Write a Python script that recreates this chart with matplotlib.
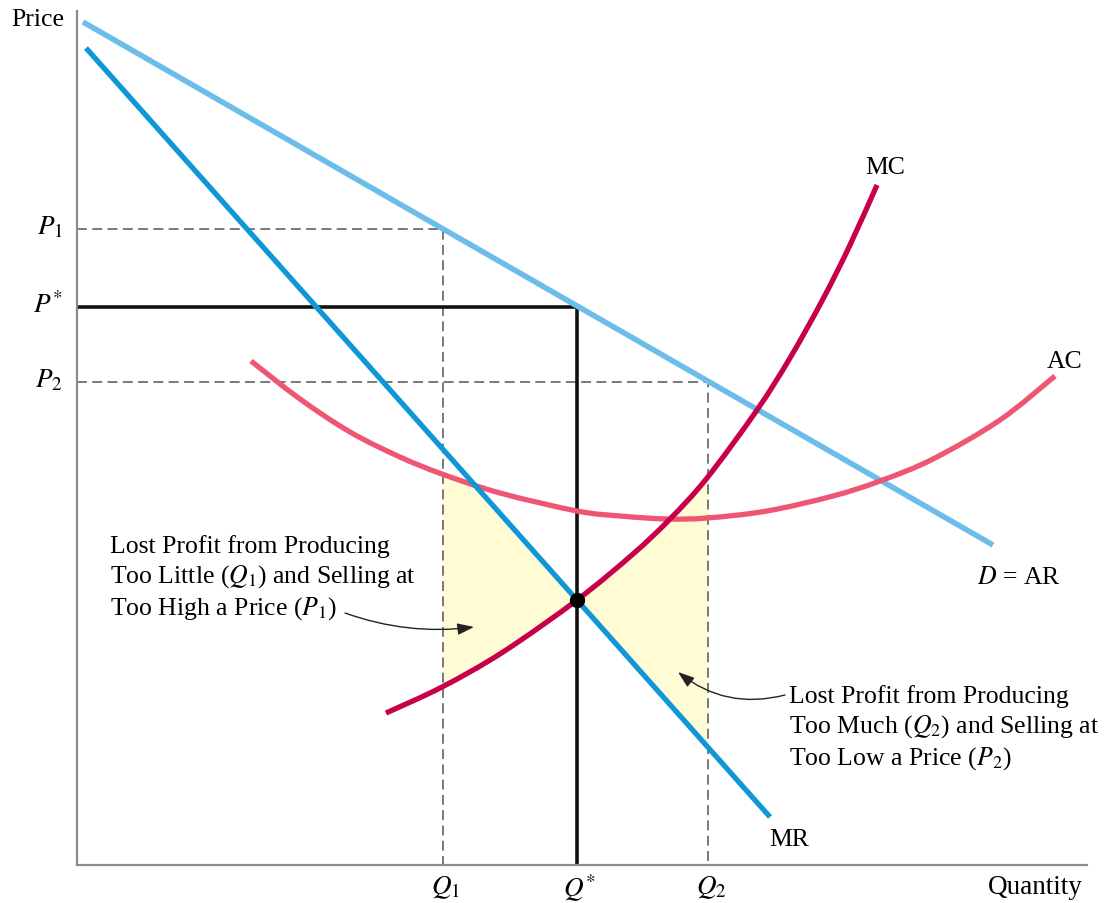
import matplotlib
matplotlib.use("Agg")
import matplotlib.pyplot as plt
from matplotlib.path import Path
from matplotlib.patches import PathPatch
import numpy as np

# ---- data (quantity / price units of the diagram) ----
Q1, QSTAR, Q2 = 366, 500, 631
P1, PSTAR, P2 = 636, 558, 483

demand_q = [6, 916]
demand_p = [843, 320]

mr_q = [9, 693]
mr_p = [817, 48]

mc_q = [309, 365, 426, 500, 556, 593, 630, 680, 713, 746, 773, 800]
mc_p = [152, 178, 213, 265, 311, 346, 387, 455, 507, 566, 620, 680]

ac_q = [174, 223, 273, 323, 365, 423, 500, 543, 590, 630, 690, 756, 803, 856, 923, 978]
ac_p = [504, 466, 433, 408, 391, 372, 354, 349, 346, 347, 354, 369, 384, 406, 445, 489]

xtick_labels = ["$Q_1$", r"$Q^{\!*}$", "$Q_2$"]
ytick_labels = ["$P_1$", r"$P^{\!*}$", "$P_2$"]

# ---- style ----
plt.rcParams["font.family"] = ["Liberation Serif", "DejaVu Serif"]
plt.rcParams["mathtext.fontset"] = "stix"

W, H = 1116, 904
fig = plt.figure(figsize=(W / 100, H / 100), dpi=100)
ax = fig.add_axes([77 / W, 38 / H, 1010 / W, 854 / H])
ax.set_xlim(0, 1010)
ax.set_ylim(0, 854)
for s in ["top", "right"]:
    ax.spines[s].set_visible(False)
for s in ["left", "bottom"]:
    ax.spines[s].set_color("#8c8c8c")
    ax.spines[s].set_linewidth(1.6)
ax.set_xticks([])
ax.set_yticks([])

C_D = "#6cbde9"
C_MR = "#0f97d8"
C_MC = "#c8004b"
C_AC = "#ef5673"
C_FILL = "#fefbd5"
FS = 18.5


def smooth_path(xs, ys):
    """Cubic Bezier path (Catmull-Rom tangents) through the given points."""
    p = np.column_stack([xs, ys]).astype(float)
    ext = np.vstack([p[0], p, p[-1]])
    verts = [p[0]]
    codes = [Path.MOVETO]
    for i in range(len(p) - 1):
        a, b, c, d = ext[i], ext[i + 1], ext[i + 2], ext[i + 3]
        verts += [b + (c - a) / 6.0, c - (d - b) / 6.0, c]
        codes += [Path.CURVE4] * 3
    return Path(verts, codes)


mc_path = smooth_path(mc_q, mc_p)
ac_path = smooth_path(ac_q, ac_p)
mc_poly = mc_path.to_polygons(closed_only=False)[0]
ac_poly = ac_path.to_polygons(closed_only=False)[0]

# shaded areas
xl = np.linspace(Q1, QSTAR, 300)
mr_l = np.interp(xl, mr_q, mr_p)
ac_l = np.interp(xl, ac_poly[:, 0], ac_poly[:, 1])
mc_l = np.interp(xl, mc_poly[:, 0], mc_poly[:, 1])
ax.fill_between(xl, mc_l, np.minimum(mr_l, ac_l), color=C_FILL, lw=0, zorder=1)
xr = np.linspace(QSTAR, Q2, 300)
ax.fill_between(xr, np.interp(xr, mr_q, mr_p), np.interp(xr, mc_poly[:, 0], mc_poly[:, 1]),
                color=C_FILL, lw=0, zorder=1)

# guide lines
dash = (0, (6.5, 3.5))
ax.plot([0, Q1, Q1], [P1, P1, 0], color="#555555", lw=1.1, ls=dash, zorder=2)
ax.plot([0, Q2, Q2], [P2, P2, 0], color="#555555", lw=1.1, ls=dash, zorder=2)
ax.plot([0, QSTAR, QSTAR], [PSTAR, PSTAR, 0], color="#111111", lw=2.6, zorder=2,
        solid_joinstyle="miter")

# curves
ax.plot(demand_q, demand_p, color=C_D, lw=4.0, solid_capstyle="butt", zorder=3)
ax.plot(mr_q, mr_p, color=C_MR, lw=3.8, solid_capstyle="butt", zorder=4)
ax.add_patch(PathPatch(ac_path, facecolor="none", edgecolor=C_AC, lw=3.8,
                       capstyle="butt", zorder=3))
ax.add_patch(PathPatch(mc_path, facecolor="none", edgecolor=C_MC, lw=3.8,
                       capstyle="butt", zorder=5))

# equilibrium point
ax.plot([QSTAR], [np.interp(QSTAR, mr_q, mr_p)], "o", color="black", ms=10, zorder=6)

# axis labels
ax.text(-13, 846, "Price", fontsize=FS, ha="right", va="center", clip_on=False)
ax.text(1006, -22, "Quantity", fontsize=19.5, ha="right", va="center", clip_on=False)
for y, lab in zip([P1, PSTAR, P2], ytick_labels):
    ax.text(-14, y + 2, lab, fontsize=FS + 1, ha="right", va="center", clip_on=False)
for x, lab in zip([Q1, QSTAR, Q2], xtick_labels):
    ax.text(x + 3, -22, lab, fontsize=FS + 1, ha="center", va="center", clip_on=False)

# curve labels
ax.text(808, 698, "MC", fontsize=FS, ha="center", va="center")
ax.text(988, 504, "AC", fontsize=FS, ha="center", va="center")
ax.text(900, 288, "$D$ = AR", fontsize=FS, ha="left", va="center")
ax.text(692, 26, "MR", fontsize=FS, ha="left", va="center")

# annotations
ax.text(33, 331, "Lost Profit from Producing\nToo Little ($Q_1$) and Selling at\nToo High a Price ($P_1$)",
        fontsize=FS, ha="left", va="top", linespacing=1.27)
ax.text(712, 181, "Lost Profit from Producing\nToo Much ($Q_2$) and Selling at\nToo Low a Price ($P_2$)",
        fontsize=FS, ha="left", va="top", linespacing=1.27)
ax.annotate("", xy=(397, 238), xytext=(268, 252),
            arrowprops=dict(arrowstyle="-|>,head_length=1.0,head_width=0.35",
                            color="#222222", lw=1.0,
                            connectionstyle="arc3,rad=0.12", shrinkA=0, shrinkB=0))
ax.annotate("", xy=(601, 193), xytext=(708, 170),
            arrowprops=dict(arrowstyle="-|>,head_length=1.0,head_width=0.35",
                            color="#222222", lw=1.0,
                            connectionstyle="arc3,rad=-0.25", shrinkA=0, shrinkB=0))

fig.savefig("out.png", dpi=100)
